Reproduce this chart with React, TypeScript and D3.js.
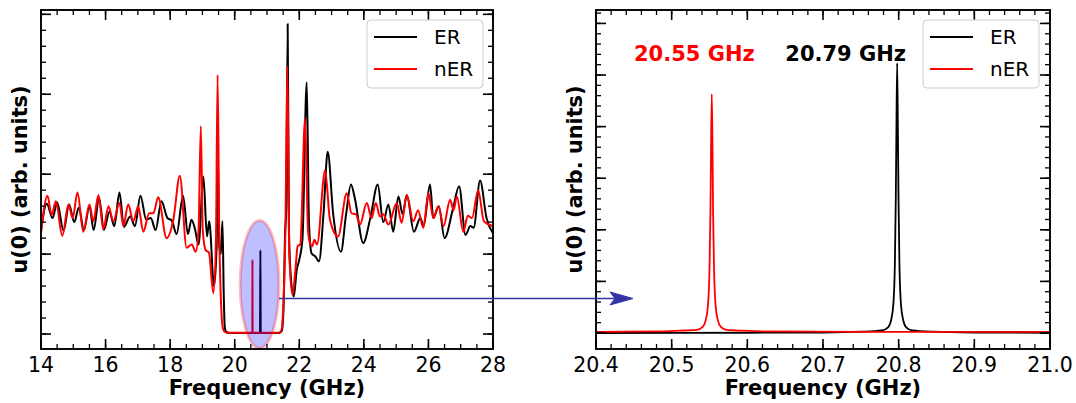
import React from 'react';
import * as d3 from 'd3';

// ---------- data ----------
// Left panel: u(0) vs frequency (GHz), arbitrary units (1 unit = major tick spacing)
const erWide: [number, number][] = [
  [14.00, 1.30], [14.18, 1.63], [14.36, 1.45], [14.50, 1.65], [14.70, 1.29], [14.87, 1.62],
  [15.03, 1.40], [15.17, 1.58], [15.33, 1.30], [15.50, 1.60], [15.63, 1.30], [15.80, 1.70],
  [15.95, 1.30], [16.12, 1.53], [16.27, 1.35], [16.43, 1.77], [16.57, 1.34], [16.76, 1.47],
  [16.91, 1.35], [17.08, 1.73], [17.26, 1.43], [17.40, 1.45], [17.55, 1.30], [17.73, 1.66],
  [17.92, 1.45], [18.05, 1.42], [18.20, 1.25], [18.40, 1.73], [18.55, 1.25], [18.66, 1.43],
  [18.76, 1.33], [18.88, 1.12], [19.03, 1.97], [19.14, 1.22], [19.21, 1.41], [19.36, 0.60],
  [19.44, 1.1], [19.48, 2.25], [19.52, 1.1], [19.57, 1.0], [19.62, 1.41], [19.66, 0.5],
  [19.69, 0.1], [19.73, 0.03], [19.85, 0.012], [20.785, 0.012], [20.795, 1.05], [20.805, 0.012],
  [21.38, 0.012], [21.46, 0.04], [21.51, 0.3], [21.56, 1.26], [21.60, 1.6], [21.64, 3.88],
  [21.68, 1.3], [21.74, 0.7], [21.83, 0.47], [21.92, 0.8], [22.00, 0.93], [22.10, 1.2],
  [22.23, 3.15], [22.30, 1.4], [22.38, 1.01], [22.50, 0.97], [22.61, 0.91], [22.75, 1.5],
  [22.88, 2.28], [23.05, 1.5], [23.29, 1.03], [23.45, 1.5], [23.60, 1.87], [23.72, 1.7],
  [23.98, 1.14], [24.20, 1.45], [24.43, 1.87], [24.60, 1.40], [24.76, 1.62], [24.91, 1.28],
  [25.07, 1.72], [25.20, 1.50], [25.33, 1.74], [25.55, 1.28], [25.75, 1.45], [25.85, 1.35],
  [26.05, 1.87], [26.15, 1.45], [26.32, 1.60], [26.50, 1.20], [26.75, 1.55], [26.95, 1.85],
  [27.15, 1.24], [27.30, 1.35], [27.40, 1.33], [27.60, 1.92], [27.80, 1.45], [28.00, 1.26],
];

const nerWide: [number, number][] = [
  [14.00, 1.26], [14.20, 1.73], [14.33, 1.49], [14.46, 1.66], [14.66, 1.23], [14.85, 1.62],
  [14.98, 1.45], [15.13, 1.77], [15.31, 1.28], [15.50, 1.62], [15.62, 1.41], [15.78, 1.74],
  [15.93, 1.31], [16.09, 1.60], [16.24, 1.41], [16.43, 1.64], [16.55, 1.35], [16.70, 1.62],
  [16.86, 1.41], [17.01, 1.60], [17.17, 1.28], [17.35, 1.51], [17.48, 1.51], [17.63, 1.71],
  [17.89, 1.20], [18.10, 1.43], [18.30, 1.98], [18.51, 1.08], [18.67, 1.12], [18.79, 1.03],
  [18.88, 1.3], [18.95, 2.60], [19.01, 1.3], [19.10, 1.05], [19.20, 1.02], [19.34, 0.51],
  [19.42, 1.2], [19.47, 3.24], [19.52, 1.3], [19.58, 0.35], [19.63, 0.08], [19.68, 0.03],
  [19.76, 0.015], [20.545, 0.015], [20.55, 0.93], [20.555, 0.015], [21.36, 0.015], [21.44, 0.04],
  [21.50, 0.3], [21.57, 1.3], [21.63, 3.35], [21.69, 1.0], [21.79, 0.49], [21.88, 0.8],
  [21.95, 1.10], [22.03, 1.12], [22.18, 2.70], [22.27, 1.3], [22.33, 1.14], [22.40, 1.10],
  [22.47, 1.18], [22.55, 1.12], [22.80, 2.05], [22.95, 1.43], [23.20, 1.22], [23.47, 1.76],
  [23.62, 1.51], [23.75, 1.50], [23.88, 1.37], [24.09, 1.64], [24.24, 1.45], [24.37, 1.64],
  [24.50, 1.47], [24.60, 1.50], [24.76, 1.37], [25.02, 1.64], [25.17, 1.39], [25.33, 1.74],
  [25.53, 1.41], [25.68, 1.55], [25.84, 1.33], [26.00, 1.76], [26.15, 1.45], [26.31, 1.60],
  [26.47, 1.35], [26.67, 1.68], [26.78, 1.55], [26.88, 1.72], [27.08, 1.28], [27.22, 1.48],
  [27.35, 1.45], [27.54, 1.80], [27.72, 1.41], [28.00, 1.35],
];

// Right panel: zoom on the two resonances
const erZoom: [number, number][] = [
  [20.40, 0.0], [20.60, 0.005], [20.70, 0.01], [20.75, 0.025], [20.778, 0.05], [20.786, 0.11],
  [20.790, 0.25], [20.793, 0.56], [20.795, 1.35], [20.7962, 2.6], [20.797, 3.9], [20.798, 5.23],
  [20.799, 3.9], [20.7998, 2.6], [20.801, 1.35], [20.803, 0.56], [20.806, 0.25], [20.810, 0.11],
  [20.818, 0.05], [20.845, 0.025], [20.90, 0.01], [21.0, 0.005],
];

const nerZoom: [number, number][] = [
  [20.40, 0.02], [20.48, 0.03], [20.51, 0.045], [20.533, 0.06], [20.541, 0.12], [20.545, 0.25],
  [20.548, 0.55], [20.550, 1.24], [20.5512, 2.3], [20.552, 3.5], [20.553, 4.63], [20.554, 3.5],
  [20.5548, 2.3], [20.556, 1.24], [20.558, 0.55], [20.561, 0.25], [20.565, 0.12], [20.573, 0.06],
  [20.595, 0.045], [20.63, 0.03], [20.75, 0.022], [21.0, 0.02],
];

const leftXTicks = [14, 16, 18, 20, 22, 24, 26, 28];
const rightXTicks = [20.4, 20.5, 20.6, 20.7, 20.8, 20.9, 21.0];
const leftYMajor = [0, 1, 2, 3, 4];
const rightYMajor = [0, 1, 2, 3, 4, 5, 6];
const seriesNames = ['ER', 'nER'];
const seriesColors = ['#000000', '#ff0000'];
const peakLabels = [
  { text: '20.55 GHz', color: '#ff0000', at: 20.530 },
  { text: '20.79 GHz', color: '#000000', at: 20.730 },
];

const FONT = 'DejaVu Sans';

type Box = { x0: number; x1: number; y0: number; y1: number };

function Frame({ box, xs, ys, xMajor, xMinor, yMajor, yMinor, fmt }: any) {
  const { x0, x1, y0, y1 } = box as Box;
  const L = 10, l = 5;
  const els: any[] = [];
  xMinor.forEach((v: number, i: number) => {
    const x = xs(v);
    els.push(<line key={'xm' + i} x1={x} x2={x} y1={y1} y2={y1 - l} stroke="#000" strokeWidth={1.3} />);
    els.push(<line key={'xmt' + i} x1={x} x2={x} y1={y0} y2={y0 + l} stroke="#000" strokeWidth={1.3} />);
  });
  xMajor.forEach((v: number, i: number) => {
    const x = xs(v);
    els.push(<line key={'xM' + i} x1={x} x2={x} y1={y1} y2={y1 - L} stroke="#000" strokeWidth={1.6} />);
    els.push(<line key={'xMt' + i} x1={x} x2={x} y1={y0} y2={y0 + L} stroke="#000" strokeWidth={1.6} />);
    els.push(
      <text key={'xl' + i} x={x} y={372} textAnchor="middle" fontSize={20.5} fontFamily={FONT} fill="#000">
        {fmt(v)}
      </text>
    );
  });
  yMinor.forEach((v: number, i: number) => {
    const y = ys(v);
    els.push(<line key={'ym' + i} x1={x0} x2={x0 + l} y1={y} y2={y} stroke="#000" strokeWidth={1.3} />);
    els.push(<line key={'ymr' + i} x1={x1} x2={x1 - l} y1={y} y2={y} stroke="#000" strokeWidth={1.3} />);
  });
  yMajor.forEach((v: number, i: number) => {
    const y = ys(v);
    els.push(<line key={'yM' + i} x1={x0} x2={x0 + L} y1={y} y2={y} stroke="#000" strokeWidth={1.6} />);
    els.push(<line key={'yMr' + i} x1={x1} x2={x1 - L} y1={y} y2={y} stroke="#000" strokeWidth={1.6} />);
  });
  return (
    <g>
      {els}
      <rect x={x0} y={y0} width={x1 - x0} height={y1 - y0} fill="none" stroke="#000" strokeWidth={1.9} />
      <text x={(x0 + x1) / 2} y={395} textAnchor="middle" fontSize={21} fontWeight="bold" fontFamily={FONT}>
        Frequency (GHz)
      </text>
      <text
        transform={`translate(${x0 - 14},${(y0 + y1) / 2}) rotate(-90)`}
        textAnchor="middle"
        fontSize={20.8}
        fontWeight="bold"
        fontFamily={FONT}
      >
        u(0) (arb. units)
      </text>
    </g>
  );
}

function Legend({ x, y }: { x: number; y: number }) {
  return (
    <g>
      <rect x={x} y={y} width={116} height={68} rx={4} fill="#fff" fillOpacity={0.8} stroke="#cccccc" strokeWidth={1} />
      {seriesNames.map((n, i) => (
        <g key={n}>
          <line x1={x + 7} x2={x + 50} y1={y + 17 + i * 32} y2={y + 17 + i * 32} stroke={seriesColors[i]} strokeWidth={2} />
          <text x={x + 67} y={y + 24 + i * 32} fontSize={20} fontFamily={FONT} fill="#000">
            {n}
          </text>
        </g>
      ))}
    </g>
  );
}

export default function App() {
  const W = 1076, H = 403;
  const LB: Box = { x0: 41, x1: 493, y0: 10, y1: 349 };
  const RB: Box = { x0: 596, x1: 1050, y0: 10, y1: 349 };

  const lx = d3.scaleLinear().domain([14, 28]).range([LB.x0, LB.x1]);
  const ly = d3.scaleLinear().domain([-0.1875, 4.054]).range([LB.y1, LB.y0]);
  const rx = d3.scaleLinear().domain([20.4, 21.0]).range([RB.x0, RB.x1]);
  const ry = d3.scaleLinear().domain([-0.31, 6.26]).range([RB.y1, RB.y0]);

  const lLine = d3.line<[number, number]>().x(d => lx(d[0])).y(d => ly(d[1])).curve(d3.curveMonotoneX);
  const rLine = d3.line<[number, number]>().x(d => rx(d[0])).y(d => ry(d[1])).curve(d3.curveMonotoneX);

  const lxMinor = d3.range(0, 29).map(i => 14 + i * 0.5);
  const rxMinor = d3.range(0, 31).map(i => 20.4 + i * 0.02);
  const lyMinor = d3.range(0, 21).map(i => i * 0.2);
  const ryMinor = d3.range(0, 32).map(i => i * 0.2);

  // ellipse highlighting the band gap region
  const ecx = lx(20.77), ecy = ly(0.62);
  const erx = lx(21.37) - lx(20.77), ery = ly(-0.18) - ly(0.62);

  const arrowY = 298.5;
  const arrowX0 = ecx + erx;
  const arrowX1 = 633;

  return (
    <svg width={W} height={H} style={{ position: 'absolute', left: 0, top: 0, background: '#fff' }}>
      <defs>
        <clipPath id="clipL">
          <rect x={LB.x0} y={LB.y0} width={LB.x1 - LB.x0} height={LB.y1 - LB.y0} />
        </clipPath>
        <clipPath id="clipR">
          <rect x={RB.x0} y={RB.y0} width={RB.x1 - RB.x0} height={RB.y1 - RB.y0} />
        </clipPath>
      </defs>
      <rect x={0} y={0} width={W} height={H} fill="#fff" />

      {/* left panel */}
      <g clipPath="url(#clipL)">
        <path d={lLine(erWide) || ''} fill="none" stroke={seriesColors[0]} strokeWidth={2} strokeLinejoin="round" />
        <path d={lLine(nerWide) || ''} fill="none" stroke={seriesColors[1]} strokeWidth={2} strokeLinejoin="round" />
        <ellipse cx={ecx} cy={ecy} rx={erx} ry={ery} fill="rgba(0,0,255,0.25)" stroke="rgba(255,0,0,0.25)" strokeWidth={3} />
      </g>
      <Frame box={LB} xs={lx} ys={ly} xMajor={leftXTicks} xMinor={lxMinor} yMajor={leftYMajor} yMinor={lyMinor} fmt={(v: number) => String(v)} />
      <Legend x={367} y={20} />

      {/* right panel */}
      <g clipPath="url(#clipR)">
        <path d={rLine(erZoom) || ''} fill="none" stroke={seriesColors[0]} strokeWidth={1.8} strokeLinejoin="round" />
        <path d={rLine(nerZoom) || ''} fill="none" stroke={seriesColors[1]} strokeWidth={1.8} strokeLinejoin="round" />
      </g>
      <Frame box={RB} xs={rx} ys={ry} xMajor={rightXTicks} xMinor={rxMinor} yMajor={rightYMajor} yMinor={ryMinor} fmt={d3.format('.1f')} />
      <Legend x={923} y={20} />
      {peakLabels.map(p => (
        <text key={p.text} x={rx(p.at)} y={61} textAnchor="middle" fontSize={21} fontWeight="bold" fontFamily={FONT} fill={p.color}>
          {p.text}
        </text>
      ))}

      {/* arrow */}
      <line x1={arrowX0} x2={arrowX1 - 18} y1={arrowY} y2={arrowY} stroke="#3434a6" strokeWidth={1.6} />
      <path
        d={`M${arrowX1},${arrowY} L${arrowX1 - 23},${arrowY - 6.5} L${arrowX1 - 18},${arrowY} L${arrowX1 - 23},${arrowY + 6.5} Z`}
        fill="#3434a6"
        stroke="#3434a6"
        strokeWidth={1}
      />
    </svg>
  );
}
